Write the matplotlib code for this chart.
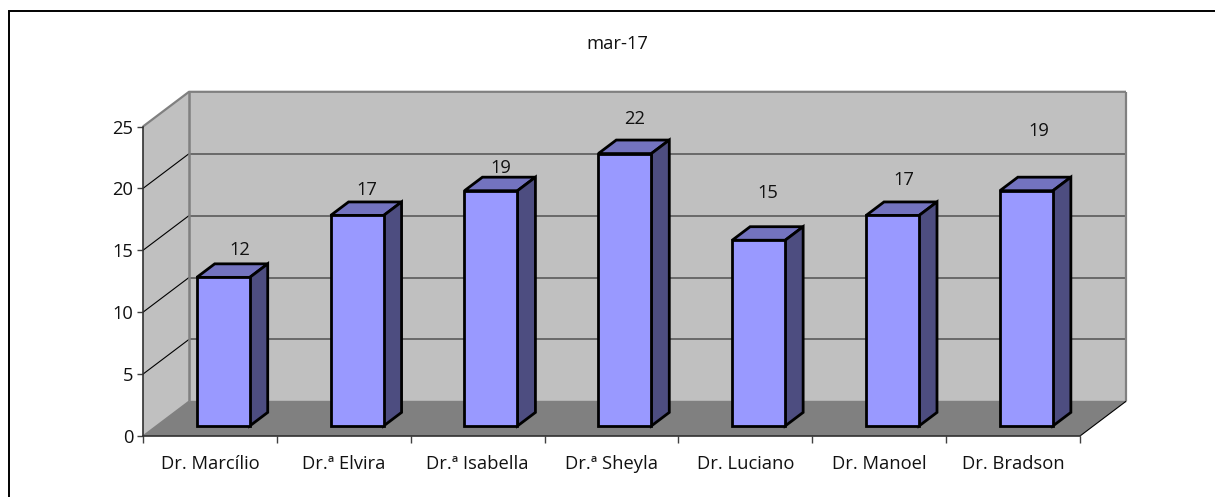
import numpy as np
import matplotlib
matplotlib.use('Agg')
import matplotlib.pyplot as plt
from matplotlib.lines import Line2D
from matplotlib.patches import Polygon

plt.rcParams['font.family'] = ['Open Sans', 'DejaVu Sans']

doctors = ['Dr. Marcílio', 'Dr.ª Elvira', 'Dr.ª Isabella', 'Dr.ª Sheyla',
           'Dr. Luciano', 'Dr. Manoel', 'Dr. Bradson']
counts = [12, 17, 19, 22, 15, 17, 19]
yticks = [0, 5, 10, 15, 20, 25]
title = 'mar-17'

# where excel left the data labels, in value units
label_y = [15.0, 19.85, 21.65, 25.6, 19.6, 20.7, 24.6]
label_x = [0.72, 1.67, 2.67, 3.675, 4.67, 5.68, 6.69]

W, H = 1215, 497
fig = plt.figure(figsize=(W / 100, H / 100), dpi=100)
ax = fig.add_axes([143 / W, 1 - 436 / H, 937 / W, 309.5 / H])
ax.set_xlim(0, 7)
ax.set_ylim(0, 25)

# oblique depth of the box in axis units
depth_x = 46 / 133.86
depth_y = 34.7 / 12.38
# how far in the bars stand, and their own depth
bar_in = 0.29
bar_depth = 0.39
bar_w = 0.396
wall = '#c0c0c0'
floor = '#808080'
front = '#9999ff'
top = '#7373bf'
side = '#4d4d80'
fs = 13.2


def poly(pts, fc, ec='none', lw=0, z=1):
    ax.add_patch(Polygon(pts, closed=True, fc=fc, ec=ec, lw=lw, zorder=z,
                         clip_on=False, joinstyle='miter'))


def line(xs, ys, c, lw, z=2):
    ax.plot(xs, ys, color=c, lw=lw, zorder=z, clip_on=False,
            solid_capstyle='butt')


# walls and floor
poly([(0, 0), (depth_x, depth_y), (depth_x, 25 + depth_y), (0, 25)], wall)
poly([(depth_x, depth_y), (7 + depth_x, depth_y), (7 + depth_x, 25 + depth_y),
      (depth_x, 25 + depth_y)], wall)
poly([(0, 0), (7, 0), (7 + depth_x, depth_y), (depth_x, depth_y)], floor)

for t in yticks[1:-1]:
    line([0, depth_x], [t, t + depth_y], '#000000', 0.8)
    line([depth_x, 7 + depth_x], [t + depth_y] * 2, '#5a5a5a', 1.2)
line([0, depth_x], [0, depth_y], '#808080', 1.1)
line([0, depth_x, 7 + depth_x], [25, 25 + depth_y, 25 + depth_y], '#808080', 1.6)
line([depth_x, depth_x], [depth_y, 25 + depth_y], '#808080', 1.8)
line([7 + depth_x, 7 + depth_x], [depth_y, 25 + depth_y], '#808080', 1.6)
line([depth_x, 7 + depth_x], [depth_y, depth_y], '#808080', 1.0)
line([7, 7 + depth_x], [0, depth_y], '#000000', 0.8)

# labels go under the bars
for x, y, v in zip(label_x, label_y, counts):
    ax.text(x, y, str(v), ha='center', va='center', fontsize=fs,
            color='#111111', zorder=3, clip_on=False)

for i, v in enumerate(counts):
    ox = depth_x * bar_in
    oy = depth_y * bar_in
    x0 = i + (1 - bar_w) / 2 + ox
    x1 = x0 + bar_w
    dx = depth_x * bar_depth
    dy = depth_y * bar_depth
    kw = dict(ec='black', lw=2.0, z=4)
    poly([(x0, oy + v), (x1, oy + v), (x1 + dx, oy + v + dy), (x0 + dx, oy + v + dy)], top, **kw)
    poly([(x1, oy), (x1 + dx, oy + dy), (x1 + dx, oy + v + dy), (x1, oy + v)], side, **kw)
    poly([(x0, oy), (x1, oy), (x1, oy + v), (x0, oy + v)], front, **kw)

for s in ['top', 'right']:
    ax.spines[s].set_visible(False)
for s in ['left', 'bottom']:
    ax.spines[s].set_color('#303030')
    ax.spines[s].set_linewidth(1.2)
    ax.spines[s].set_zorder(3)
ax.patch.set_alpha(0)
ax.set_yticks(yticks)
ax.set_xticks(np.arange(8))
ax.set_xticklabels([])
ax.set_xticks(np.arange(7) + 0.5, doctors, minor=True)
ax.tick_params(axis='x', which='major', length=5, width=1, color='#404040')
ax.tick_params(axis='x', which='minor', length=0, labelsize=fs, pad=14,
               labelcolor='#111111')
ax.tick_params(axis='y', length=4, width=1, color='#404040', labelsize=fs,
               pad=3, labelcolor='#111111')

fig.text(617 / W, 1 - 44 / H, title, ha='center', va='center', fontsize=fs,
         color='#111111')
# outer border runs off the right and bottom of the crop
fig.add_artist(Line2D([8.5 / W, 8.5 / W, 1], [0, 1 - 10.5 / H, 1 - 10.5 / H],
                      color='black', lw=1.4, transform=fig.transFigure,
                      solid_joinstyle='miter'))

fig.savefig('out.png', dpi=100)
